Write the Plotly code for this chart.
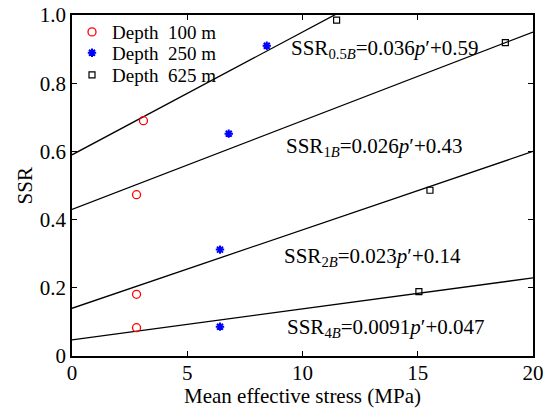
import plotly.graph_objects as go

# Data
x_100 = [3.1, 2.8, 2.8, 2.8]
y_100 = [0.69, 0.473, 0.181, 0.083]
x_250 = [8.45, 6.8, 6.42, 6.42]
y_250 = [0.91, 0.652, 0.312, 0.086]
x_625 = [11.48, 18.8, 15.53, 15.05]
y_625 = [0.985, 0.919, 0.486, 0.189]

fit_names = ["0.5B", "1B", "2B", "4B"]
fit_slopes = [0.036, 0.026, 0.023, 0.0091]
fit_slope_txt = ["0.036", "0.026", "0.023", "0.0091"]
fit_intercepts = [0.59, 0.43, 0.14, 0.047]
fit_int_txt = ["0.59", "0.43", "0.14", "0.047"]
fit_x = [0, 20]
label_x = [9.4, 9.2, 9.13, 9.24]
label_y = [0.90, 0.614, 0.289, 0.081]

x_ticks = [0, 5, 10, 15, 20]
y_ticks = [0, 0.2, 0.4, 0.6, 0.8, 1.0]
y_ticktext = ["0", "0.2", "0.4", "0.6", "0.8", "1.0"]
x_title = "Mean effective stress (MPa)"
y_title = "SSR"

FONT = "Liberation Serif, Times New Roman, serif"

fig = go.Figure()

for s, b in zip(fit_slopes, fit_intercepts):
    fig.add_trace(go.Scatter(x=fit_x, y=[s * xx + b for xx in fit_x], mode="lines",
                             line=dict(color="black", width=1.3), showlegend=False,
                             hoverinfo="skip"))

fig.add_trace(go.Scatter(x=x_100, y=y_100, mode="markers", name="Depth  100 m",
                         legend="legend",
                         marker=dict(symbol="circle-open", color="red", size=8,
                                     line=dict(width=1.3, color="red"))))
fig.add_trace(go.Scatter(x=x_250, y=y_250, mode="markers", name="Depth  250 m",
                         legend="legend2",
                         marker=dict(symbol="asterisk-open", color="blue", size=7,
                                     line=dict(width=2, color="blue"))))
fig.add_trace(go.Scatter(x=x_625, y=y_625, mode="markers", name="Depth  625 m",
                         legend="legend3",
                         marker=dict(symbol="square-open", color="black", size=6,
                                     line=dict(width=1.2, color="black"))))

for n, st, it, lx, ly in zip(fit_names, fit_slope_txt, fit_int_txt, label_x, label_y):
    sub = n[:-1] + "<i>B</i>"
    fig.add_annotation(x=lx, y=ly, xref="x", yref="y", xanchor="left", yanchor="middle",
                       text=f"SSR<sub>{sub}</sub>={st}<i>p</i>′+{it}", showarrow=False,
                       font=dict(family=FONT, size=21, color="black"))

# axis titles as paper-anchored annotations
fig.add_annotation(x=0.5, y=-0.118, xref="paper", yref="paper", xanchor="center",
                   yanchor="middle", text=x_title, showarrow=False,
                   font=dict(family=FONT, size=21, color="black"))
fig.add_annotation(x=-0.102, y=0.5, xref="paper", yref="paper", xanchor="center",
                   yanchor="middle", text=y_title, textangle=-90, showarrow=False,
                   font=dict(family=FONT, size=21, color="black"))

axis_common = dict(showline=True, linecolor="black", linewidth=1.5, mirror="ticks",
                   ticks="inside", ticklen=5, tickwidth=1, tickcolor="black",
                   showgrid=False, zeroline=False, automargin=False,
                   tickfont=dict(family=FONT, size=21, color="black"))

fig.update_xaxes(range=[0, 20], tickvals=x_ticks, ticklabelstandoff=-3, **axis_common)
fig.update_yaxes(range=[0, 1.0], tickvals=y_ticks, ticktext=y_ticktext, **axis_common)

leg_common = dict(x=0.0, xanchor="left", yanchor="middle",
                  bgcolor="rgba(0,0,0,0)", itemwidth=30,
                  font=dict(family=FONT, size=19, color="black"))

fig.update_layout(
    template="none",
    width=553, height=408,
    margin=dict(l=72, r=20, t=15, b=52),
    paper_bgcolor="white", plot_bgcolor="white",
    showlegend=True,
    legend=dict(y=0.950, **leg_common),
    legend2=dict(y=0.889, **leg_common),
    legend3=dict(y=0.824, **leg_common),
    font=dict(family=FONT, color="black"),
)

fig.write_html("out.html", config={"displayModeBar": False},
               post_script="document.body.style.margin='0';document.body.style.padding='0';")
